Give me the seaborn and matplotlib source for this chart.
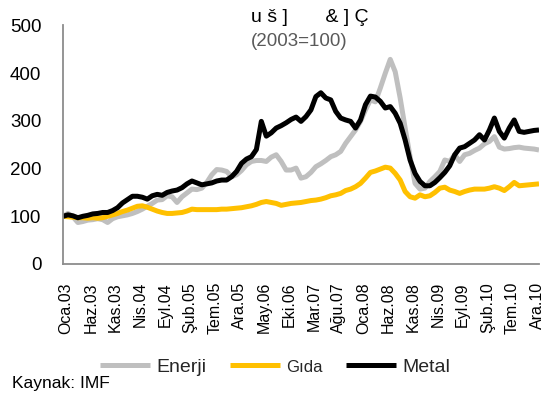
import numpy as np
import pandas as pd
import matplotlib
matplotlib.use("Agg")
import matplotlib.pyplot as plt
from matplotlib.transforms import ScaledTranslation
import seaborn as sns

# Monthly commodity price indices, Jan 2003 - Jan 2011 (2003=100)
enerji = [100, 106, 99, 87, 89, 92, 93, 95, 93, 87, 95, 99, 101, 103, 106, 110,
          115, 121, 127, 134, 135, 143, 141, 129, 141, 149, 157, 156, 159, 171,
          187, 198, 197, 194, 183, 187, 196, 208, 215, 217, 217, 215, 224, 229,
          215, 197, 197, 201, 180, 183, 192, 204, 210, 217, 225, 229, 236, 253,
          267, 281, 299, 323, 344, 340, 369, 400, 429, 403, 348, 285, 225, 169,
          157, 159, 173, 183, 194, 218, 215, 229, 215, 229, 232, 238, 243, 252,
          257, 267, 245, 241, 242, 244, 245, 243, 242, 241, 239]
gida = [100, 99, 98, 97, 97, 96, 97, 96, 97, 100, 103, 106, 110, 113, 117, 121,
        122, 119, 115, 111, 108, 106, 106, 107, 108, 111, 115, 114, 114, 114,
        114, 114, 115, 115, 116, 117, 118, 120, 122, 125, 129, 131, 129, 127,
        123, 125, 127, 128, 129, 131, 133, 134, 136, 139, 143, 145, 148, 154,
        157, 162, 169, 180, 192, 195, 199, 203, 201, 190, 176, 152, 141, 138,
        145, 141, 143, 150, 159, 161, 155, 152, 148, 152, 155, 157, 157, 157,
        159, 162, 159, 154, 162, 171, 164, 165, 166, 167, 168]
metal = [100, 103, 101, 97, 100, 102, 105, 106, 108, 108, 112, 118, 128, 135,
         142, 142, 140, 136, 143, 146, 144, 150, 153, 155, 160, 168, 174, 170,
         166, 168, 170, 174, 176, 176, 183, 194, 211, 220, 225, 240, 299, 268,
         275, 285, 290, 296, 303, 308, 299, 309, 323, 351, 359, 348, 344, 320,
         306, 302, 299, 285, 302, 334, 352, 350, 341, 327, 330, 316, 295, 260,
         218, 190, 173, 164, 164, 171, 181, 192, 206, 229, 243, 246, 253, 260,
         271, 260, 281, 306, 278, 264, 285, 302, 278, 276, 278, 280, 281]

series_names = ["Enerji", "Gıda", "Metal"]
series_colors = ["#BFBFBF", "#FFC000", "#000000"]
tick_labels = ["Oca.03", "Haz.03", "Kas.03", "Nis.04", "Eyl.04", "Şub.05",
               "Tem.05", "Ara.05", "May.06", "Eki.06", "Mar.07", "Ağu.07",
               "Oca.08", "Haz.08", "Kas.08", "Nis.09", "Eyl.09", "Şub.10",
               "Tem.10", "Ara.10"]
tick_step = 5
y_ticks = [0, 100, 200, 300, 400, 500]

n = len(metal)
df = pd.DataFrame({
    "ay": np.tile(np.arange(n), 3),
    "deger": enerji + gida + metal,
    "seri": [s for s in series_names for _ in range(n)],
})

sns.set_style("white")
plt.rcParams["font.family"] = ["Liberation Sans", "DejaVu Sans"]

W, H = 542, 394
fig = plt.figure(figsize=(W / 100, H / 100), dpi=100)
ax = fig.add_axes([63 / W, 1 - 264 / H, (539 - 63) / W, (264 - 25.5) / H])

sns.lineplot(data=df, x="ay", y="deger", hue="seri",
             palette=dict(zip(series_names, series_colors)),
             linewidth=3.6, ax=ax, legend=False)
for ln in ax.get_lines():
    ln.set_solid_joinstyle("round")
    ln.set_solid_capstyle("butt")

ax.set_xlim(0, n - 1)
ax.set_ylim(0, 500)
ax.set_yticks(y_ticks)
ax.set_xticks(range(0, tick_step * len(tick_labels), tick_step))
ax.set_xticklabels(tick_labels, rotation=90)
ax.set_xlabel("")
ax.set_ylabel("")

axis_gray = "#8C8C8C"
for side in ["top", "right"]:
    ax.spines[side].set_visible(False)
for side in ["left", "bottom"]:
    ax.spines[side].set_color(axis_gray)
    ax.spines[side].set_linewidth(1.3)

ax.tick_params(axis="y", direction="out", length=5, width=1.3, color=axis_gray,
               labelsize=13.5, pad=10.5, labelcolor="black")
ax.tick_params(axis="x", direction="out", length=5, width=1.3, color=axis_gray,
               labelsize=11.5, pad=8.0, labelcolor="black")
shift = ScaledTranslation(3 / 100, 0, fig.dpi_scale_trans)
for lab in ax.get_xticklabels():
    lab.set_transform(lab.get_transform() + shift)

# Title and base-year note
fig.text(310 / W, 1 - 18 / H, "u š ]       & ] Ç", ha="center", va="center",
         fontsize=14, color="black")
fig.text(299 / W, 1 - 41 / H, "(2003=100)", ha="center", va="center",
         fontsize=13.5, color="#595959")

leg = fig.legend(ax.get_lines(), series_names, loc="center",
                 bbox_to_anchor=(275 / W, 1 - 367 / H), ncol=3, frameon=False,
                 fontsize=14, handlelength=2.6, handletextpad=0.3,
                 columnspacing=1.2, borderpad=0)
leg.get_texts()[1].set_fontsize(12)

fig.text(12 / W, 1 - 388 / H, "Kaynak: IMF", fontsize=12.5, va="baseline",
         color="black")

fig.savefig("out.png", dpi=100)
